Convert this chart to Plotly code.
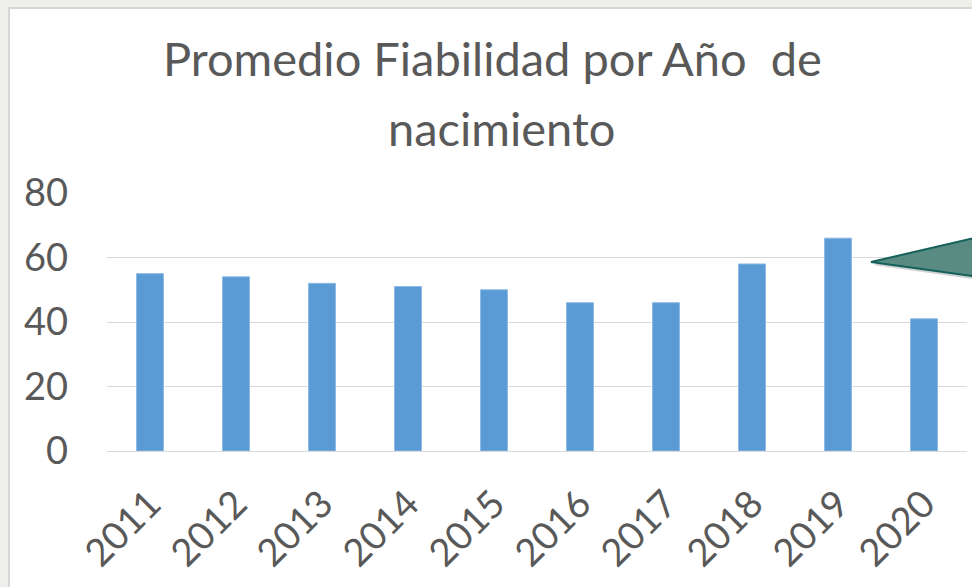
import plotly.graph_objects as go

# data
years = ["2011", "2012", "2013", "2014", "2015", "2016", "2017", "2018", "2019", "2020"]
promedio = [55, 54, 52, 51, 50, 46, 46, 58, 66, 41]
y_ticks = [0, 20, 40, 60, 80]

W, H = 972, 587
L, R, T, B = 107, 5, 193, 136
PW, PH = W - L - R, H - T - B


def px(x):
    return (x - L) / PW


def py(y):
    return (H - B - y) / PH


font = "Lato, 'Open Sans', sans-serif"
grey = "#595959"

fig = go.Figure()
fig.add_trace(go.Bar(x=years, y=promedio,
                     marker=dict(color="#5b9bd5", line=dict(color="#8fbbe4", width=1)),
                     showlegend=False))

fig.update_layout(
    width=W, height=H,
    margin=dict(l=L, r=R, t=T, b=B),
    paper_bgcolor="#eeeeea",
    plot_bgcolor="rgba(0,0,0,0)",
    bargap=0.686,
    font=dict(family=font, color=grey),
)

fig.update_xaxes(type="category", tickangle=-45, tickfont=dict(size=38, color=grey),
                 showgrid=False, showline=False, ticks="", ticklabelstandoff=22)
fig.update_yaxes(range=[0, 80], tickvals=y_ticks, tickfont=dict(size=38, color=grey),
                 showgrid=True, gridcolor="#d9d9d9", gridwidth=1, zeroline=True,
                 zerolinecolor="#d9d9d9", zerolinewidth=1, showline=False, ticks="",
                 ticklabelstandoff=38)

# white slide/chart area with a thin border, behind everything
fig.add_shape(type="rect", xref="paper", yref="paper", layer="below",
              x0=px(9), x1=px(1010), y0=py(8), y1=py(620),
              fillcolor="white", line=dict(color="#d6d6d2", width=2))

# title, two lines
fig.add_annotation(text="Promedio Fiabilidad por Año  de", xref="paper", yref="paper",
                   x=px(492), y=py(58), showarrow=False, xanchor="center", yanchor="middle",
                   font=dict(size=47, color=grey, family=font))
fig.add_annotation(text="nacimiento", xref="paper", yref="paper",
                   x=px(501), y=py(128), showarrow=False, xanchor="center", yanchor="middle",
                   font=dict(size=47, color=grey, family=font))

# callout pointer (shadow + shape)
sh = "M {} {} L {} {} L {} {} Z".format(px(873), py(265), px(1000), py(236), px(1000), py(283))
fig.add_shape(type="path", xref="paper", yref="paper", path=sh,
              fillcolor="rgba(0,0,0,0.18)", line=dict(width=0))
tri = "M {} {} L {} {} L {} {} Z".format(px(871), py(262), px(1000), py(232), px(1000), py(280))
fig.add_shape(type="path", xref="paper", yref="paper", path=tri,
              fillcolor="#5a8b82", line=dict(color="#14615b", width=2))

fig.write_html("out.html", config={"displayModeBar": False},
               post_script="document.body.style.margin='0';document.body.style.overflow='hidden';")
